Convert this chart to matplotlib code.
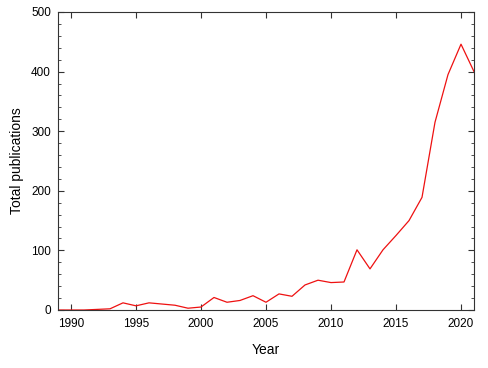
import matplotlib
matplotlib.use("Agg")
import matplotlib.pyplot as plt
from matplotlib.ticker import MultipleLocator

plt.rcParams['font.family'] = ['Liberation Sans', 'DejaVu Sans']

years = list(range(1989, 2022))
publications = [0, 0, 0, 1, 2, 12, 7, 12, 10, 8, 3, 5, 21, 13, 16, 24, 13,
                27, 23, 42, 50, 46, 47, 101, 69, 101, 125, 150, 189, 315,
                395, 446, 400]
x_ticks = [1990, 1995, 2000, 2005, 2010, 2015, 2020]
y_ticks = [0, 100, 200, 300, 400, 500]

fig = plt.figure(figsize=(4.88, 3.68), dpi=100)
ax = fig.add_axes([58/488, 58/368, (474-58)/488, (310-12)/368])
ax.plot(years, publications, color='#ee1111', linewidth=0.9)
ax.set_xlim(1989, 2021)
ax.set_ylim(0, 500)
ax.set_xticks(x_ticks)
ax.set_yticks(y_ticks)
ax.yaxis.set_minor_locator(MultipleLocator(20))
ax.tick_params(which='both', direction='in', top=True, right=True,
               labelsize=8.5, colors='#333333', labelcolor='black')
ax.tick_params(axis='x', which='major', pad=6)
ax.tick_params(axis='y', which='major', pad=5)
ax.tick_params(which='major', length=4.5, width=0.8)
ax.tick_params(which='minor', length=2.5, width=0.6)
for s in ax.spines.values():
    s.set_color('#333333')
    s.set_linewidth(0.8)
ax.set_xlabel('Year', fontsize=10, labelpad=9)
ax.set_ylabel('Total publications', fontsize=10, labelpad=5)
fig.savefig('out.png', dpi=100)
